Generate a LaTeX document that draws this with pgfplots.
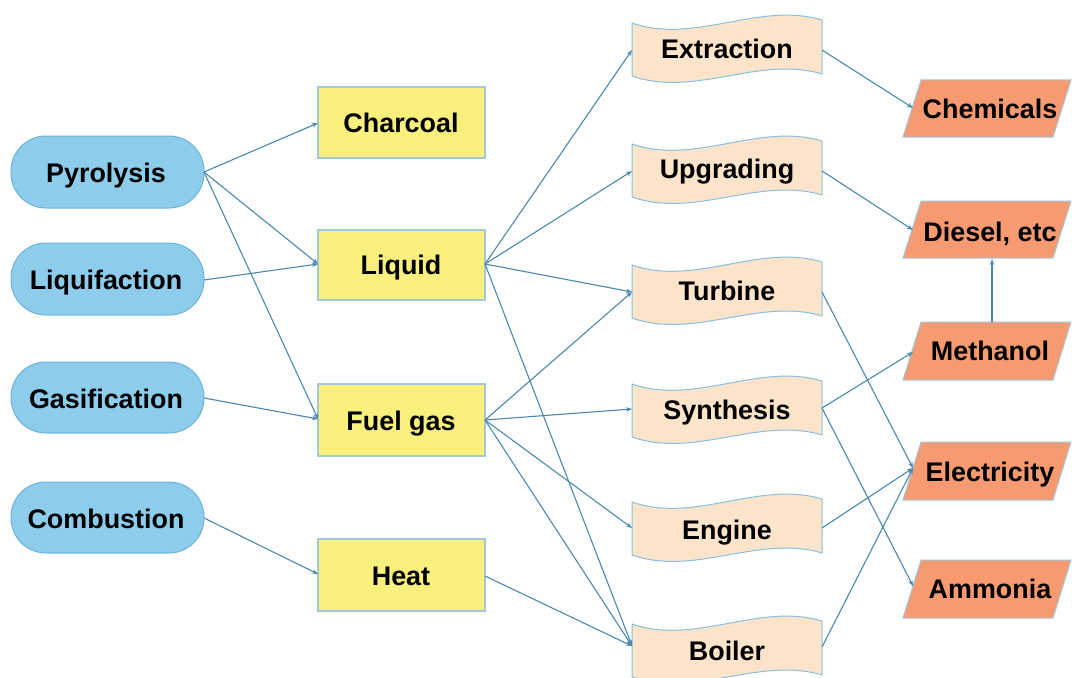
\documentclass[border=0pt]{standalone}
\usepackage{pgfplots}
\pgfplotsset{compat=1.18}
\usepackage{fontspec}
\setmainfont{Liberation Sans}
\usetikzlibrary{arrows.meta}
\definecolor{bluefill}{HTML}{8DCDEB}
\definecolor{blueedge}{HTML}{6DB3D9}
\definecolor{yelfill}{HTML}{F8EF7C}
\definecolor{yeledge}{HTML}{A3C8D6}
\definecolor{peachfill}{HTML}{FCE4CB}
\definecolor{peachedge}{HTML}{88C0E0}
\definecolor{salfill}{HTML}{F69A71}
\definecolor{saledge}{HTML}{A0C8DE}
\definecolor{edgecol}{HTML}{4C88AE}
\newcommand{\lab}{\bfseries\fontsize{27}{30}\selectfont}
% stadium: top y, bottom y
\newcommand{\stadium}[2]{\draw[fill=bluefill,draw=blueedge,line width=1bp,rounded corners=35bp] (11,#1) rectangle (204,#2);}
\newcommand{\ybox}[2]{\draw[fill=yelfill,draw=yeledge,line width=1.2bp] (318,#1) rectangle (485,#2);}
% wavy: left-top y
\newcommand{\wavy}[1]{\draw[fill=peachfill,draw=peachedge,line width=1bp] (632,#1) .. controls (695,#1+22) and (759,#1-22) .. (822,#1-3) -- (822,#1+51) .. controls (759,#1+32) and (695,#1+75) .. (632,#1+53) -- cycle;}
% parallelogram: top y, bottom y
\newcommand{\para}[2]{\draw[fill=salfill,draw=saledge,line width=1bp] (903,#2) -- (921,#1) -- (1071,#1) -- (1053,#2) -- cycle;}
% label at cap-centre (x,y)
\newcommand{\lbl}[3]{\node[font=\lab,anchor=base,inner sep=0pt] at (#1,#2+9.6) {#3};}
\begin{document}
\begin{tikzpicture}
\begin{axis}[width=1072bp,height=678bp,scale only axis,
  xmin=0,xmax=1072,ymin=0,ymax=678,y dir=reverse,hide axis,clip=false,
  edge/.style={color=edgecol,line width=1.1bp,-{Stealth[length=6bp,width=4.5bp]}}]
\coordinate (BL) at (0,678);
\coordinate (TR) at (1072,0);
% ---- shapes ----
\stadium{136}{208}
\stadium{243}{315}
\stadium{362}{433}
\stadium{482}{553}
\ybox{87}{158}
\ybox{230}{300}
\ybox{384}{456}
\ybox{539}{611}
\wavy{23}
\wavy{144}
\wavy{265}
\wavy{384}
\wavy{502}
\wavy{624}
\para{80}{137}
\para{201}{258}
\para{322}{380}
\para{442}{500}
\para{560}{618}
% ---- edges ----
\addplot[edge] coordinates {(204,172) (318,123)};
\addplot[edge] coordinates {(204,172) (318,264)};
\addplot[edge] coordinates {(204,172) (318,419)};
\addplot[edge] coordinates {(204,280) (318,264)};
\addplot[edge] coordinates {(204,398) (318,419)};
\addplot[edge] coordinates {(204,518) (318,574)};
\addplot[edge] coordinates {(485,264) (632,50)};
\addplot[edge] coordinates {(485,264) (632,171)};
\addplot[edge] coordinates {(485,264) (632,292)};
\addplot[edge] coordinates {(485,264) (632,646)};
\addplot[edge] coordinates {(485,420) (632,292)};
\addplot[edge] coordinates {(485,420) (632,409)};
\addplot[edge] coordinates {(485,420) (632,528)};
\addplot[edge] coordinates {(485,420) (632,646)};
\addplot[edge] coordinates {(485,576) (632,646)};
\addplot[edge] coordinates {(822,50) (913,108)};
\addplot[edge] coordinates {(822,171) (913,230)};
\addplot[edge] coordinates {(822,292) (913,468)};
\addplot[edge] coordinates {(822,408) (913,352)};
\addplot[edge] coordinates {(822,408) (913,586)};
\addplot[edge] coordinates {(822,528) (913,468)};
\addplot[edge] coordinates {(822,647) (913,468)};
\addplot[edge] coordinates {(992,322) (992,259)};
% ---- labels ----
\lbl{106}{173}{Pyrolysis}
\lbl{106}{280}{Liquifaction}
\lbl{106}{399}{Gasification}
\lbl{106}{519}{Combustion}
\lbl{401}{123}{Charcoal}
\lbl{401}{265}{Liquid}
\lbl{401}{421}{Fuel gas}
\lbl{401}{576}{Heat}
\lbl{727}{49}{Extraction}
\lbl{727}{169}{Upgrading}
\lbl{727}{291}{Turbine}
\lbl{727}{410}{Synthesis}
\lbl{727}{530}{Engine}
\lbl{727}{651}{Boiler}
\lbl{990}{109}{Chemicals}
\lbl{990}{232}{Diesel, etc}
\lbl{990}{351}{Methanol}
\lbl{990}{472}{Electricity}
\lbl{990}{589}{Ammonia}
\end{axis}
\pgfresetboundingbox
\path (BL) rectangle (TR);
\end{tikzpicture}
\end{document}
